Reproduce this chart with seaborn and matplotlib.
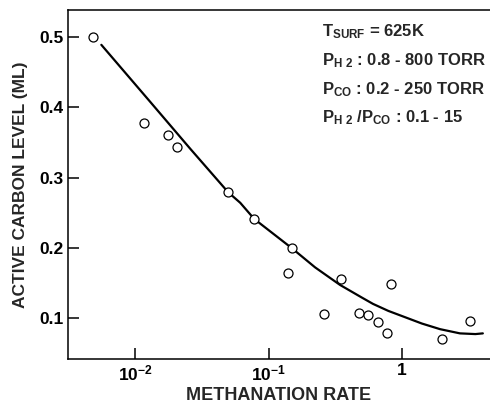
import numpy as np
import pandas as pd
import matplotlib
matplotlib.use("Agg")
import matplotlib.pyplot as plt
import seaborn as sns

# measured points (methanation rate, active carbon level in ML)
rate = [0.00484, 0.0117, 0.0177, 0.0206, 0.0497, 0.078, 0.150, 0.140,
        0.349, 0.261, 0.476, 0.556, 0.661, 0.827, 0.772, 1.99, 3.23]
carbon = [0.500, 0.377, 0.360, 0.344, 0.279, 0.241, 0.199, 0.164,
          0.156, 0.106, 0.107, 0.104, 0.094, 0.149, 0.079, 0.070, 0.096]

# smooth trend curve
curve_rate = [0.00556, 0.0129, 0.0258, 0.0497, 0.0612, 0.0779, 0.100,
              0.150, 0.223, 0.343, 0.500, 0.606, 0.790, 1.09, 1.41,
              1.93, 2.72, 3.55, 4.04]
curve_carbon = [0.489, 0.408, 0.341, 0.279, 0.264, 0.241, 0.225,
                0.199, 0.172, 0.147, 0.129, 0.120, 0.110, 0.100, 0.092,
                0.084, 0.078, 0.077, 0.078]

xticks = [0.01, 0.1, 1]
xtick_labels = ["10$^{-2}$", "10$^{-1}$", "1"]
yticks = [0.1, 0.2, 0.3, 0.4, 0.5]
ytick_labels = ["0.1", "0.2", "0.3", "0.4", "0.5"]

annot = [
    r"T$_{SURF}$ = 625K",
    r"P$_{H\ 2}$ : 0.8 - 800 TORR",
    r"P$_{CO}$ : 0.2 - 250 TORR",
    r"P$_{H\ 2}$ /P$_{CO}$ : 0.1 - 15",
]

sns.set_theme(style="ticks")
plt.rcParams["font.family"] = ["Liberation Sans", "DejaVu Sans"]
plt.rcParams["font.weight"] = "bold"
plt.rcParams["mathtext.fontset"] = "custom"
for k in ["rm", "it", "bf", "sf"]:
    plt.rcParams["mathtext." + k] = "Liberation Sans:bold"

pts = pd.DataFrame({"rate": rate, "carbon": carbon})
crv = pd.DataFrame({"rate": curve_rate, "carbon": curve_carbon})

fig = plt.figure(figsize=(4.9, 4.03), dpi=100)
ax = fig.add_axes([68 / 490, 1 - 359 / 403, 422 / 490, 349 / 403])

sns.lineplot(data=crv, x="rate", y="carbon", color="black", lw=1.6, ax=ax)
sns.scatterplot(data=pts, x="rate", y="carbon", s=42, facecolor="white",
                edgecolor="black", linewidth=0.9, zorder=3, ax=ax)

ax.set_xscale("log")
ax.set_xlim(10 ** -2.505, 10 ** 0.66)
ax.set_ylim(0.0415, 0.5386)
ax.set_xticks(xticks)
ax.set_xticklabels(xtick_labels)
ax.xaxis.set_minor_locator(matplotlib.ticker.NullLocator())
ax.set_yticks(yticks)
ax.set_yticklabels(ytick_labels)
ax.tick_params(direction="in", length=8, width=1.1, labelsize=12.5,
               pad=3, colors="black")

ax.spines["right"].set_visible(False)
for s in ["left", "bottom", "top"]:
    ax.spines[s].set_linewidth(1.1)
    ax.spines[s].set_color("black")

ax.set_xlabel("METHANATION RATE", fontsize=13, fontweight="bold", labelpad=3)
ax.set_ylabel("ACTIVE CARBON LEVEL (ML)", fontsize=12.5, fontweight="bold",
              labelpad=8)

for i, t in enumerate(annot):
    ax.text(0.602, 0.938 - i * 0.0825, t, transform=ax.transAxes,
            fontsize=12, fontweight="bold", va="center", ha="left")

fig.savefig("out.png", dpi=100)
